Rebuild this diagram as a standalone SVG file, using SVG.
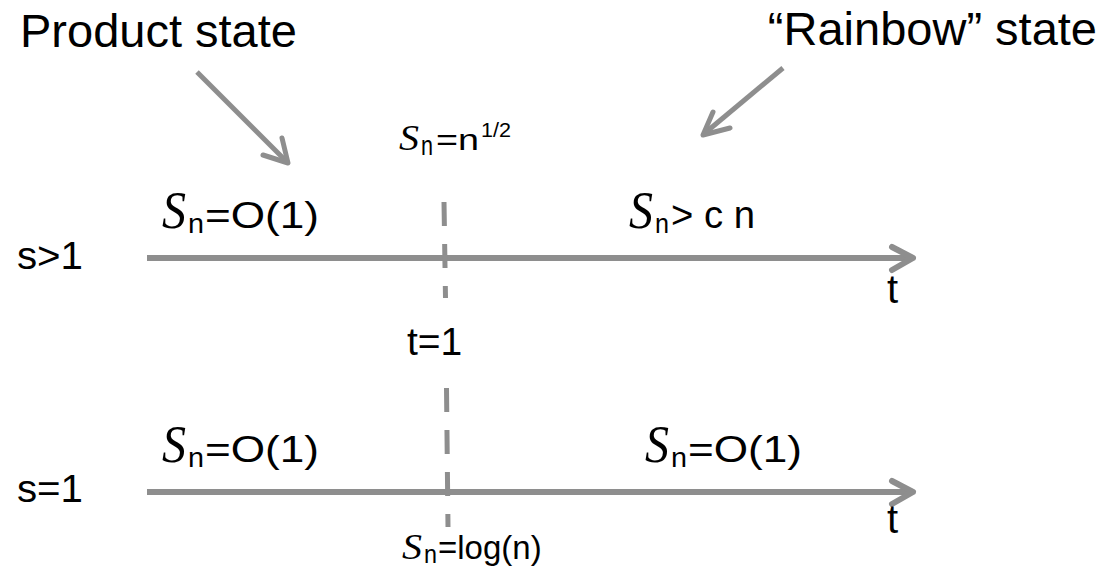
<svg xmlns="http://www.w3.org/2000/svg" width="1113" height="570" viewBox="0 0 1113 570">
<style>
.ln{stroke:#8e8e8e;fill:none;stroke-linecap:butt}
.ax{stroke-width:6}
.ptr{stroke-width:5}
.hd{stroke-linejoin:round;stroke-linecap:round}
.dash{stroke-width:5;stroke-dasharray:24 18}
.t{font-family:"Liberation Sans",Arial,sans-serif;fill:#000}
.s{font-family:"Liberation Serif","Times New Roman",serif;font-style:italic;fill:#000}
</style>
<rect width="1113" height="570" fill="#fff"/>
<g id="connectors">
  <line class="ln ax" x1="147" y1="258" x2="912" y2="258"/>
  <path class="ln ax hd" d="M892,247 L913,258 L892,270"/>
  <line class="ln ax" x1="147" y1="492" x2="912" y2="492"/>
  <path class="ln ax hd" d="M892,481 L913,492 L892,504"/>
  <line class="ln dash" x1="444" y1="202" x2="445.5" y2="298"/>
  <line class="ln dash" x1="446.5" y1="388" x2="448" y2="527"/>
  <line class="ln ptr" x1="197" y1="72" x2="286" y2="161"/>
  <path class="ln ptr hd" d="M263,155 L288,163 L282,138"/>
  <line class="ln ptr" x1="783" y1="68" x2="705" y2="133"/>
  <path class="ln ptr hd" d="M730,128 L703,135 L713,112"/>
</g>
<g id="product-state"><text class="t" x="20" y="47" font-size="47">Product state</text></g>
<g id="rainbow-state"><text class="t" x="1097" y="45" font-size="47" text-anchor="end">“Rainbow” state</text></g>
<g id="s-gt-1"><text class="t" x="17" y="269" font-size="39" textLength="66" lengthAdjust="spacingAndGlyphs">s&gt;1</text></g>
<g id="s-eq-1"><text class="t" x="17" y="502" font-size="39" textLength="66" lengthAdjust="spacingAndGlyphs">s=1</text></g>
<g id="t-top"><text class="t" x="887" y="303" font-size="40">t</text></g>
<g id="t-bottom"><text class="t" x="887" y="533" font-size="40">t</text></g>
<g id="t-eq-1"><text class="t" x="407" y="355" font-size="39">t=1</text></g>
<g id="label-top-left">
  <text class="s" x="162" y="228" font-size="52" textLength="24" lengthAdjust="spacingAndGlyphs">S</text>
  <text class="t" x="188" y="233" font-size="28" textLength="16" lengthAdjust="spacingAndGlyphs">n</text>
  <text class="t" x="205" y="228" font-size="37" textLength="114" lengthAdjust="spacingAndGlyphs">=O(1)</text>
</g>
<g id="label-top-right">
  <text class="s" x="629" y="228" font-size="52" textLength="24" lengthAdjust="spacingAndGlyphs">S</text>
  <text class="t" x="655" y="233" font-size="28" textLength="14" lengthAdjust="spacingAndGlyphs">n</text>
  <text class="t" x="671" y="228" font-size="39" textLength="84" lengthAdjust="spacingAndGlyphs">&gt; c n</text>
</g>
<g id="label-mid-top">
  <text class="s" x="399" y="150" font-size="36" textLength="20" lengthAdjust="spacingAndGlyphs">S</text>
  <text class="t" x="421" y="155" font-size="28" textLength="12" lengthAdjust="spacingAndGlyphs">n</text>
  <text class="t" x="436" y="150" font-size="29" textLength="43" lengthAdjust="spacingAndGlyphs">=n</text>
  <text class="t" x="481" y="137" font-size="20" textLength="30" lengthAdjust="spacingAndGlyphs">1/2</text>
</g>
<g id="label-bottom-left">
  <text class="s" x="162" y="462" font-size="52" textLength="24" lengthAdjust="spacingAndGlyphs">S</text>
  <text class="t" x="188" y="467" font-size="28" textLength="16" lengthAdjust="spacingAndGlyphs">n</text>
  <text class="t" x="205" y="462" font-size="37" textLength="114" lengthAdjust="spacingAndGlyphs">=O(1)</text>
</g>
<g id="label-bottom-right">
  <text class="s" x="645" y="462" font-size="52" textLength="24" lengthAdjust="spacingAndGlyphs">S</text>
  <text class="t" x="671" y="467" font-size="28" textLength="16" lengthAdjust="spacingAndGlyphs">n</text>
  <text class="t" x="688" y="462" font-size="37" textLength="114" lengthAdjust="spacingAndGlyphs">=O(1)</text>
</g>
<g id="label-bottom-mid">
  <text class="s" x="402" y="559" font-size="35" textLength="20" lengthAdjust="spacingAndGlyphs">S</text>
  <text class="t" x="424" y="563" font-size="26" textLength="13" lengthAdjust="spacingAndGlyphs">n</text>
  <text class="t" x="438" y="559" font-size="33">=log(n)</text>
</g>
</svg>
